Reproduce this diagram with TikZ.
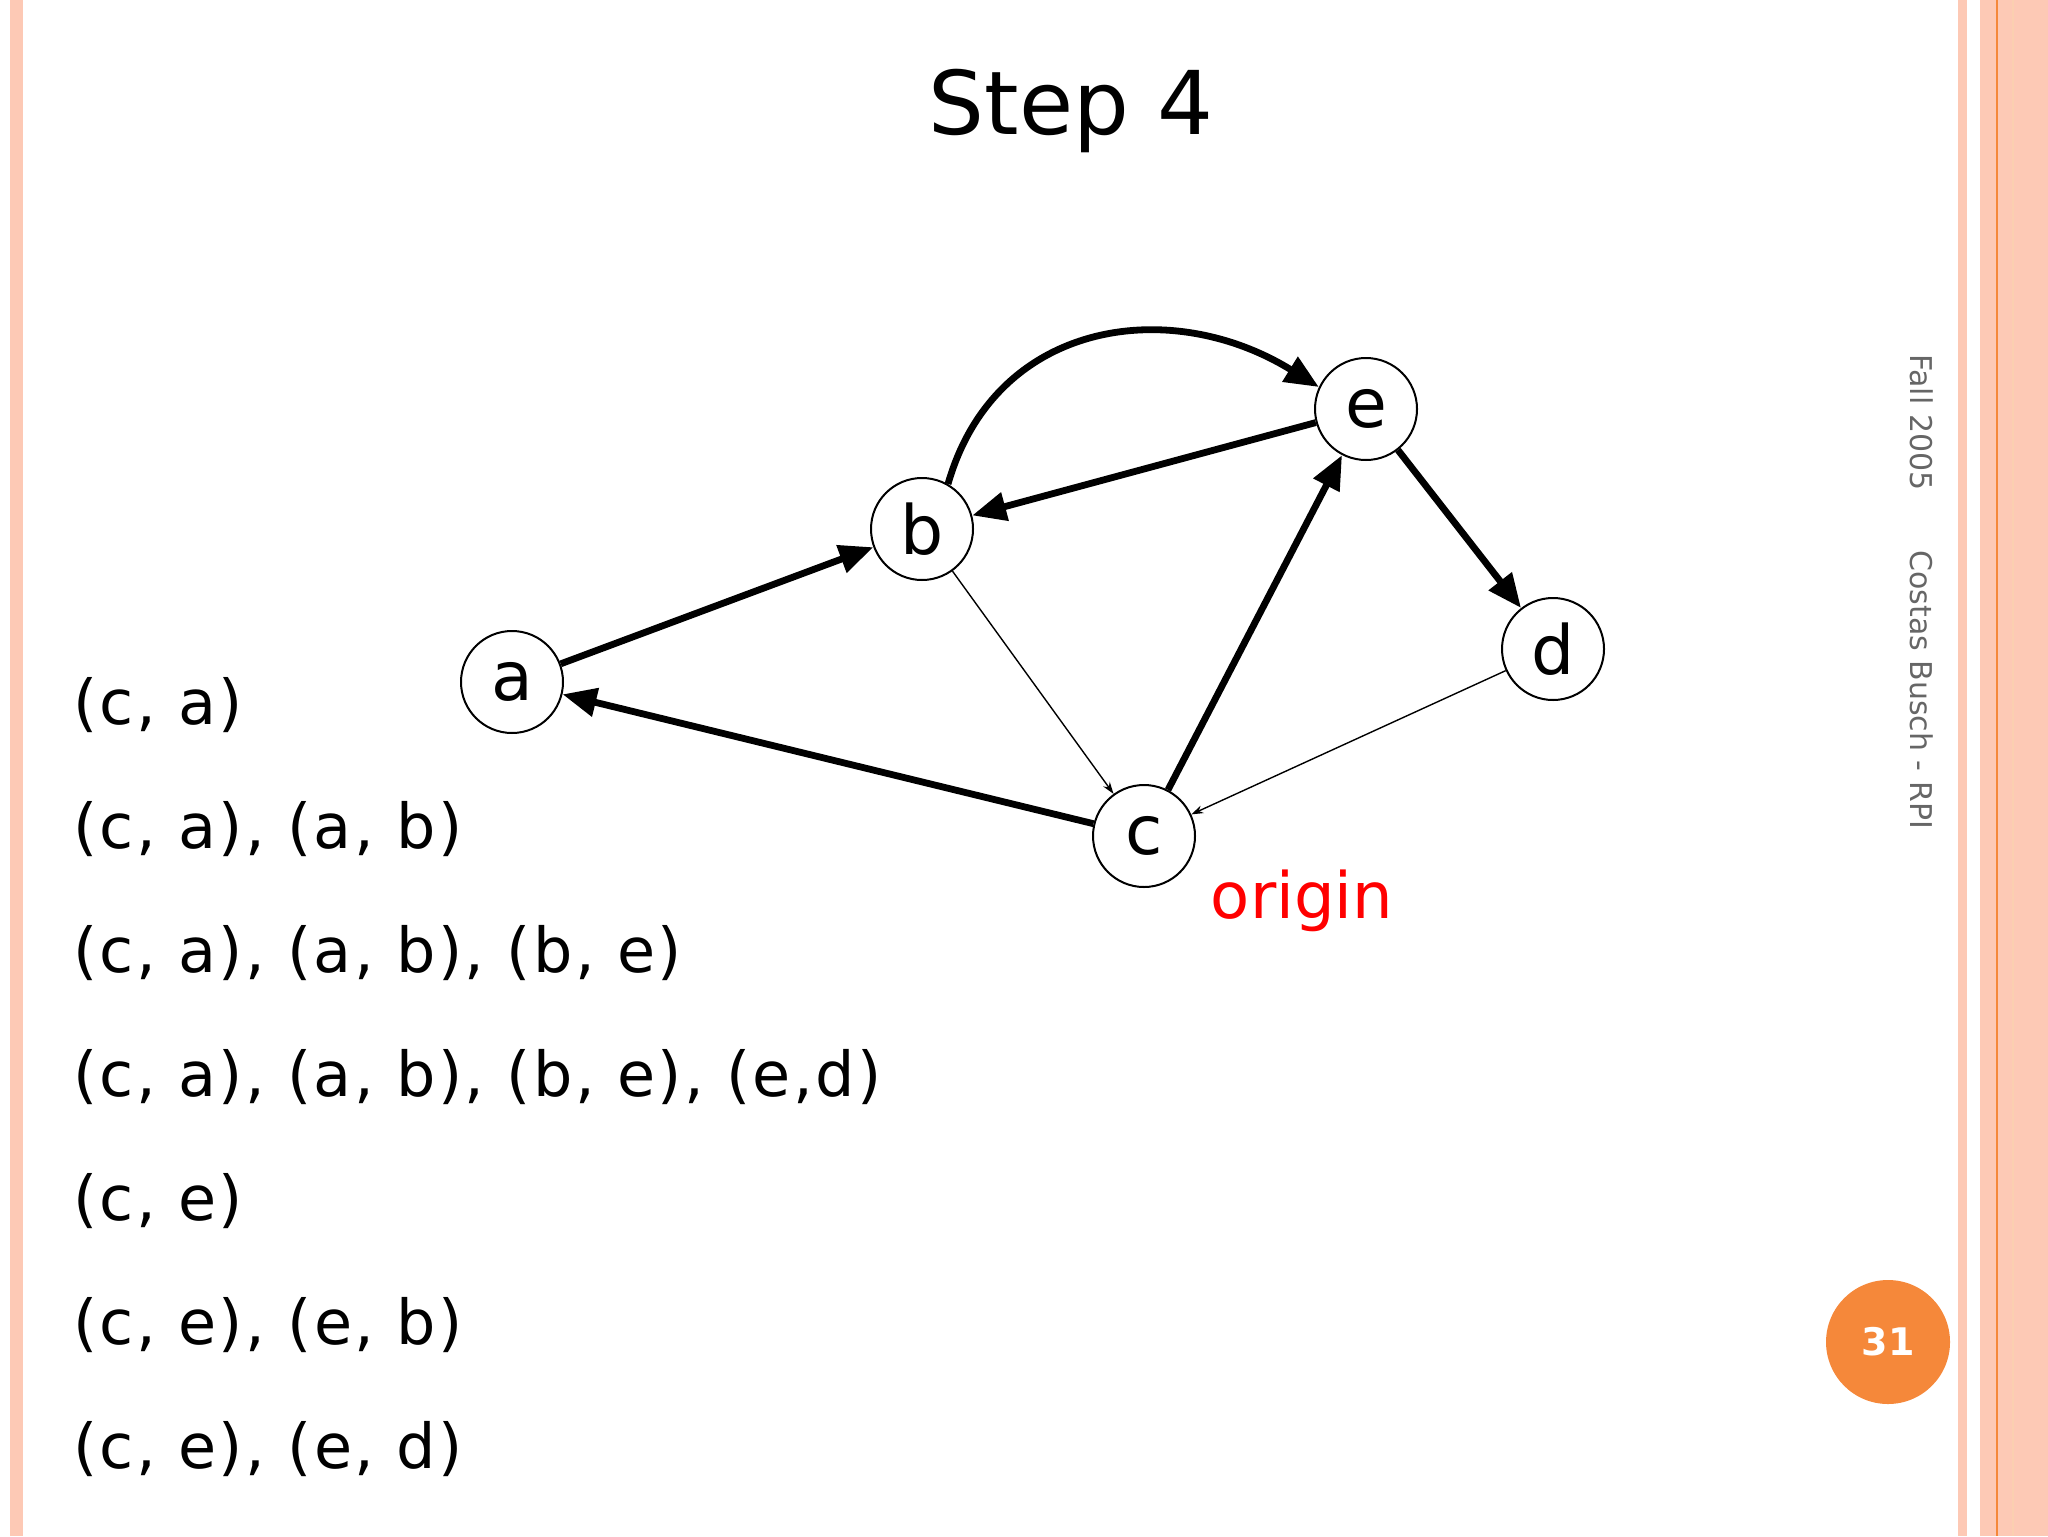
\documentclass[tikz,border=0pt]{standalone}
\usepackage{fontspec}
\setmainfont{DejaVu Sans}
\usetikzlibrary{arrows.meta}
\definecolor{pk}{HTML}{FDC9B5}
\definecolor{og}{HTML}{F5883A}
\begin{document}
\begin{tikzpicture}[x=0.5pt,y=-0.5pt,
  v/.style={circle,draw,line width=1pt,minimum size=51pt,inner sep=0pt,font=\fontsize{34}{34}\selectfont},
  thick/.style={line width=3.4pt,-{Triangle[length=17pt,width=14pt]}},
  thin/.style={line width=0.7pt,-{Stealth[length=6pt,width=4pt]}},
  lst/.style={anchor=west,font=\fontsize{31}{31}\selectfont\addfontfeature{LetterSpace=4}}]
\useasboundingbox (0,0) rectangle (2048,1536);
\fill[pk] (10,0) rectangle (23,1536);
\fill[pk] (1958,0) rectangle (1967,1536);
\fill[pk] (1980,0) rectangle (2048,1536);
\draw[og,line width=1pt] (1997,0) -- (1997,1536);
\draw[og!40,line width=1pt] (2013,0) -- (2013,1536);
\node[font=\fontsize{44}{44}\selectfont] (t) at (1071,111) {Step 4};
\node[v] (a) at (512,682) {a};
\node[v] (b) at (922,529) {b};
\node[v] (e) at (1366,409) {e};
\node[v] (d) at (1553,649) {d};
\node[v] (c) at (1144,836) {c};
\node[text=red,font=\fontsize{32}{32}\selectfont] (o) at (1302,901) {origin};
\draw[thick] (a) -- (b);
\draw[thick] (b.60) .. controls (995,320) and (1170,295) .. (e.155);
\draw[thick] (e) -- (b);
\draw[thick] (c) -- (a);
\draw[thick] (c) -- (e);
\draw[thick] (e) -- (d);
\draw[thin] (b) -- (c);
\draw[thin] (d) -- (c);
\node[lst] (l1) at (66,705) {(c, a)};
\node[lst] (l2) at (66,829) {(c, a), (a, b)};
\node[lst] (l3) at (66,953) {(c, a), (a, b), (b, e)};
\node[lst] (l4) at (66,1077) {(c, a), (a, b), (b, e), (e,d)};
\node[lst] (l5) at (66,1201) {(c, e)};
\node[lst] (l6) at (66,1325) {(c, e), (e, b)};
\node[lst] (l7) at (66,1449) {(c, e), (e, d)};
\node[rotate=-90,text=gray!80!black,font=\fontsize{15}{15}\selectfont] (f) at (1922,592) {Fall 2005\qquad Costas Busch - RPI};
\node[circle,fill=og,minimum size=62pt,text=white,font=\bfseries\fontsize{19}{19}\selectfont] (n) at (1888,1342) {31};
\end{tikzpicture}
\end{document}
